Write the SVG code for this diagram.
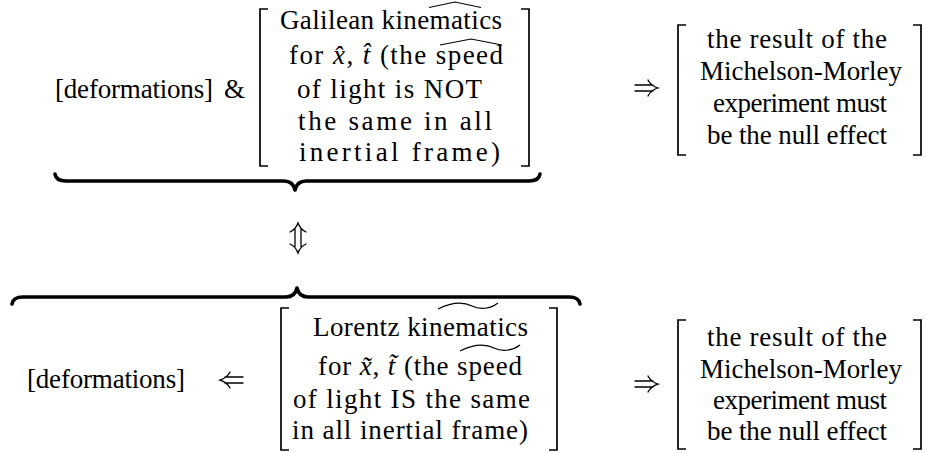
<svg xmlns="http://www.w3.org/2000/svg" width="927" height="453" viewBox="0 0 927 453">
<style>
text{font-family:"Liberation Serif","Times New Roman",serif;font-size:27px;fill:#000}
.i{font-style:italic}
.br{fill:none;stroke:#000;stroke-width:1.7}
.acc{fill:none;stroke:#000;stroke-width:1.2}
.brace{fill:none;stroke:#000;stroke-width:3.6;stroke-linecap:round;stroke-linejoin:round}
.arr{fill:none;stroke:#000;stroke-width:1.3;stroke-linecap:round}
</style>
<rect width="927" height="453" fill="#fff"/>
<g id="deformations-top">
<text x="55" y="98" textLength="158" lengthAdjust="spacing">[deformations]</text>
<text x="224" y="98">&amp;</text>
</g>
<g id="galilean">
<path class="br" d="M268,9 H260 V166 H268"/>
<path class="br" d="M521,9 H529 V166 H521"/>
<text x="280" y="29" textLength="222" lengthAdjust="spacing">Galilean kinematics</text>
<path class="acc" d="M429,7.5 L455,2 L481,7.5"/>
<text x="289" y="64" textLength="214" lengthAdjust="spacing">for <tspan class="i">x̂</tspan>, <tspan class="i">t̂</tspan> (the speed</text>
<path class="acc" d="M440,45 L471,39 L502,45"/>
<text x="297" y="98" textLength="185" lengthAdjust="spacing">of light is NOT</text>
<text x="298" y="130" textLength="194" lengthAdjust="spacing">the same in all</text>
<text x="299" y="161" textLength="201" lengthAdjust="spacing">inertial frame)</text>
</g>
<g id="result-top">
<path class="br" d="M686,25 H678 V155 H686"/>
<path class="br" d="M913,25 H921 V155 H913"/>
<text x="707" y="48" textLength="180" lengthAdjust="spacing">the result of the</text>
<text x="700" y="80" textLength="202" lengthAdjust="spacing">Michelson-Morley</text>
<text x="713" y="112" textLength="174" lengthAdjust="spacing">experiment must</text>
<text x="707" y="144" textLength="180" lengthAdjust="spacing">be the null effect</text>
</g>
<g id="deformations-bottom">
<text x="27" y="388" textLength="158" lengthAdjust="spacing">[deformations]</text>
</g>
<g id="lorentz">
<path class="br" d="M289,308 H281 V450 H289"/>
<path class="br" d="M549,308 H557 V450 H549"/>
<text x="313" y="336" textLength="215" lengthAdjust="spacing">Lorentz kinematics</text>
<path class="acc" d="M438,309 C452,302 464,302 472,306 C480,310 490,309 498,303"/>
<text x="318" y="375" textLength="204" lengthAdjust="spacing">for <tspan class="i">x̃</tspan>, <tspan class="i">t̃</tspan> (the speed</text>
<path class="acc" d="M460,351 C474,344 486,344 494,348 C502,352 512,351 520,345"/>
<text x="293" y="408" textLength="237" lengthAdjust="spacing">of light IS the same</text>
<text x="292" y="439" textLength="236" lengthAdjust="spacing">in all inertial frame)</text>
</g>
<g id="result-bottom">
<path class="br" d="M686,320 H678 V449 H686"/>
<path class="br" d="M913,320 H921 V449 H913"/>
<text x="707" y="346" textLength="180" lengthAdjust="spacing">the result of the</text>
<text x="700" y="378" textLength="202" lengthAdjust="spacing">Michelson-Morley</text>
<text x="713" y="409" textLength="174" lengthAdjust="spacing">experiment must</text>
<text x="707" y="440" textLength="180" lengthAdjust="spacing">be the null effect</text>
</g>
<g id="connectors">
<path class="brace" d="M55,174 Q56,181 66,181 L284,181 Q293,181 295,190 Q297,181 306,181 L529,181 Q539,181 540,174"/>
<path class="brace" d="M12,304 Q13,297 23,297 L286,297 Q295,297 297,288 Q299,297 308,297 L569,297 Q579,297 580,304"/>
<path class="arr" d="M635,85 H653 M635,91 H653 M648,80 Q651,86 658,88 Q651,90 648,96"/>
<path class="arr" d="M635,381 H653 M635,387 H653 M648,376 Q651,382 658,384 Q651,386 648,392"/>
<path class="arr" d="M243,377 H225 M243,383 H225 M230,372 Q227,378 220,380 Q227,382 230,388"/>
<path class="arr" d="M295,229 V247 M301,229 V247 M290,232 Q296,229 298,223 Q300,229 306,232 M290,244 Q296,247 298,253 Q300,247 306,244"/>
</g>
</svg>
